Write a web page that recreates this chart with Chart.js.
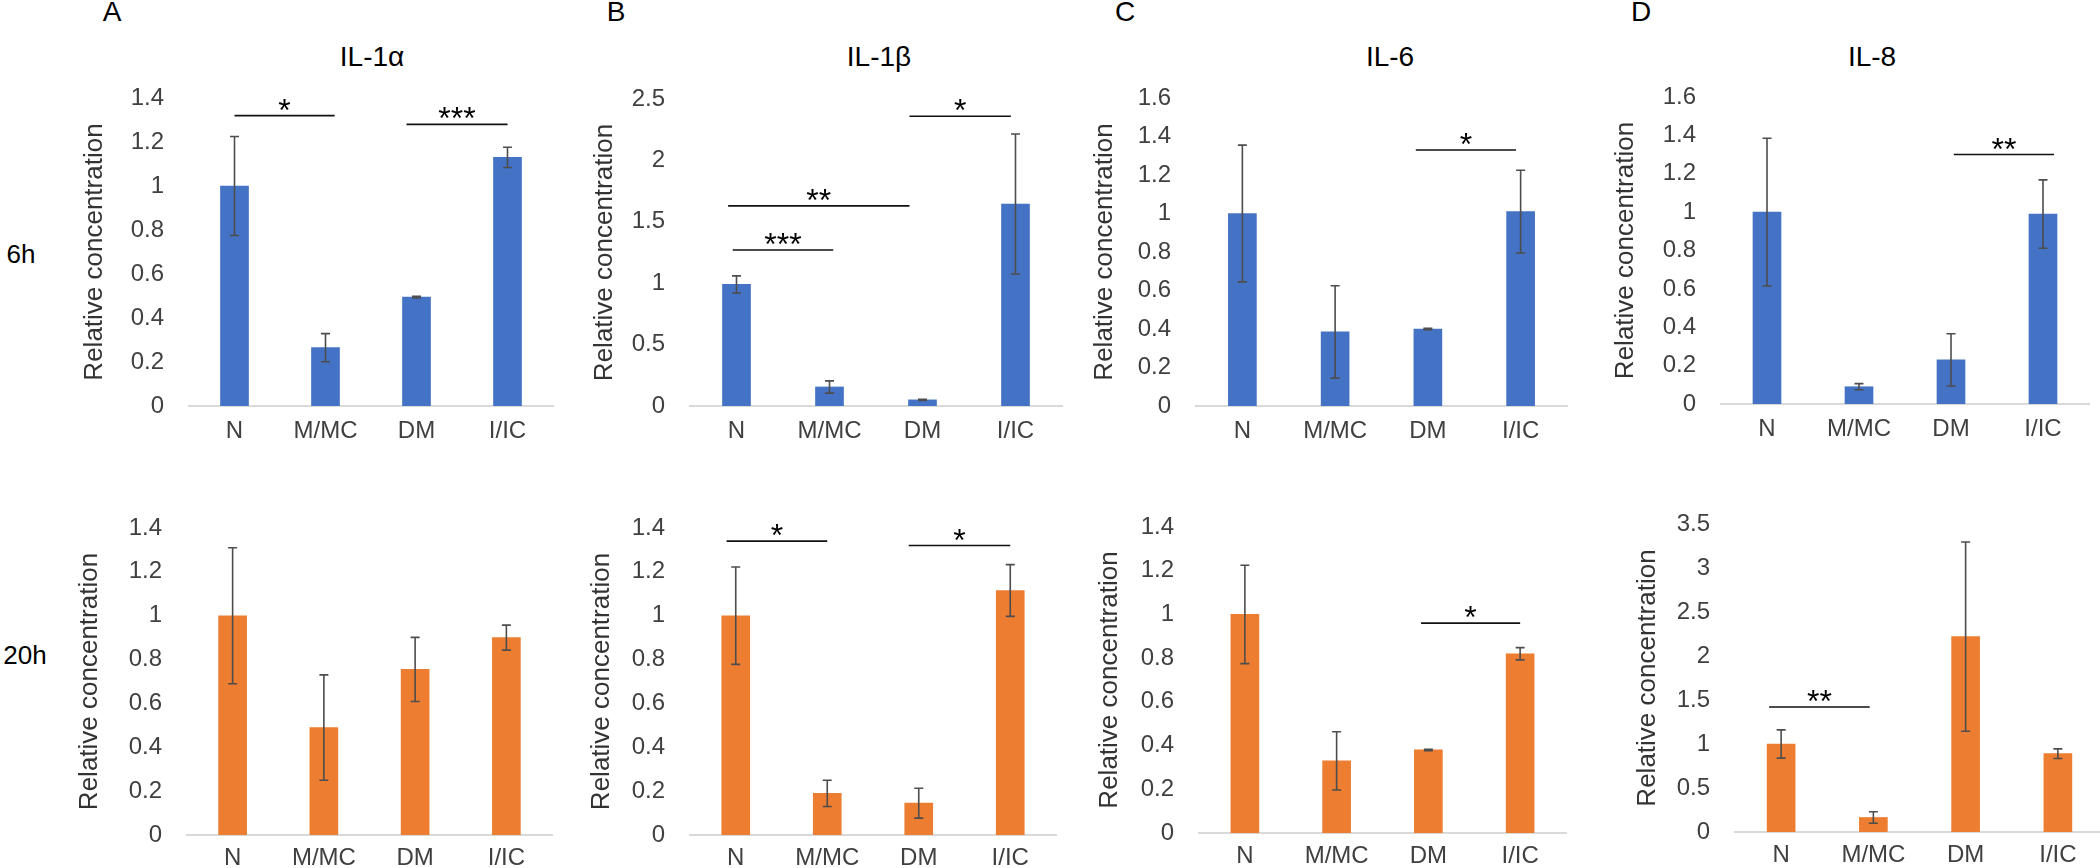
<!DOCTYPE html>
<html>
<head>
<meta charset="utf-8">
<title>IL-1α, IL-1β, IL-6, IL-8 relative concentration</title>
<script src="https://cdn.jsdelivr.net/npm/chart.js@4.4.1/dist/chart.umd.min.js"></script>
<style>
    html, body { margin: 0; padding: 0; background: #fff; overflow: hidden; }
    body { position: relative; width: 2100px; height: 868px; font-family: 'Liberation Sans', Arial, sans-serif; }
    canvas { position: absolute; }
    .lbl { position: absolute; transform: translate(-50%, -50%); line-height: 1; color: #000; white-space: nowrap; }
</style>
</head>
<body>
<div class="lbl" style="left:112px;top:12px;font-size:28px">A</div>
<div class="lbl" style="left:616px;top:12px;font-size:28px">B</div>
<div class="lbl" style="left:1125px;top:12px;font-size:28px">C</div>
<div class="lbl" style="left:1641px;top:12px;font-size:28px">D</div>
<div class="lbl" style="left:372px;top:57px;font-size:28px">IL-1α</div>
<div class="lbl" style="left:879px;top:57px;font-size:28px">IL-1β</div>
<div class="lbl" style="left:1390px;top:57px;font-size:28px">IL-6</div>
<div class="lbl" style="left:1872px;top:57px;font-size:28px">IL-8</div>
<div class="lbl" style="left:21px;top:254px;font-size:26px">6h</div>
<div class="lbl" style="left:25px;top:655px;font-size:26px">20h</div>
<script>
const FONT = "'Liberation Sans', Arial, sans-serif";

const categories = ['N', 'M/MC', 'DM', 'I/IC'];

// Means and error half-widths, 6h row (blue) and 20h row (orange)
const il1a6h = [1.0, 0.265, 0.495, 1.13];
const il1a6hErr = [0.225, 0.064, 0.004, 0.046];
const il1a20h = [1.0, 0.49, 0.755, 0.9];
const il1a20hErr = [0.31, 0.24, 0.146, 0.057];

const il1b6h = [0.99, 0.155, 0.05, 1.645];
const il1b6hErr = [0.07, 0.05, 0.004, 0.57];
const il1b20h = [1.0, 0.19, 0.145, 1.115];
const il1b20hErr = [0.222, 0.06, 0.068, 0.118];

const il6_6h = [1.0, 0.385, 0.4, 1.01];
const il6_6hErr = [0.355, 0.24, 0.003, 0.215];
const il6_20h = [1.0, 0.33, 0.38, 0.82];
const il6_20hErr = [0.225, 0.133, 0.003, 0.028];

const il8_6h = [1.0, 0.09, 0.23, 0.99];
const il8_6hErr = [0.385, 0.016, 0.136, 0.178];
const il8_20h = [1.0, 0.165, 2.22, 0.89];
const il8_20hErr = [0.16, 0.065, 1.075, 0.055];

// Significance bars: [from category, to category, level, stars]
const il1a6hSig = [[0, 1.1, 1.32, '*'], [1.89, 3, 1.28, '***']];
const il1a20hSig = [];
const il1b6hSig = [[1.86, 2.95, 2.36, '*'], [-0.09, 1.86, 1.63, '**'], [-0.04, 1.04, 1.27, '***']];
const il1b20hSig = [[-0.1, 1.0, 1.34, '*'], [1.89, 3.0, 1.32, '*']];
const il6_6hSig = [[1.87, 2.95, 1.33, '*']];
const il6_20hSig = [[1.92, 3.0, 0.96, '*']];
const il8_6hSig = [[2.03, 3.12, 1.30, '**']];
const il8_20hSig = [[-0.13, 0.96, 1.42, '**']];

// Y axis range per panel (A, B, C, D)
const yMax6h = [1.4, 2.5, 1.6, 1.6];
const yStep6h = [0.2, 0.5, 0.2, 0.2];
const yMax20h = [1.4, 1.4, 1.4, 3.5];
const yStep20h = [0.2, 0.2, 0.2, 0.5];

const BLUE = '#4472C4';
const ORANGE = '#ED7D31';

// Error bars with caps
const errorBars = {
    id: 'errorBars',
    afterDatasetsDraw(chart) {
        const { ctx, scales: { y } } = chart;
        const ds = chart.data.datasets[0];
        const meta = chart.getDatasetMeta(0);
        ctx.save();
        ctx.strokeStyle = '#4d4d4d';
        ctx.lineWidth = 1.6;
        meta.data.forEach((bar, i) => {
            const v = ds.data[i];
            const e = ds.errors[i];
            const hi = y.getPixelForValue(v + e);
            const lo = y.getPixelForValue(v - e);
            ctx.beginPath();
            ctx.moveTo(bar.x, hi); ctx.lineTo(bar.x, lo);
            ctx.moveTo(bar.x - 4.5, hi); ctx.lineTo(bar.x + 4.5, hi);
            ctx.moveTo(bar.x - 4.5, lo); ctx.lineTo(bar.x + 4.5, lo);
            ctx.stroke();
        });
        ctx.restore();
    }
};

// Horizontal significance lines with stars
const sigBrackets = {
    id: 'sigBrackets',
    afterDatasetsDraw(chart) {
        const { ctx, scales: { x, y } } = chart;
        const ds = chart.data.datasets[0];
        ctx.save();
        ctx.strokeStyle = '#111';
        ctx.fillStyle = '#000';
        ctx.lineWidth = 1.6;
        ctx.font = '32px ' + FONT;
        ctx.textAlign = 'center';
        ctx.textBaseline = 'alphabetic';
        ds.brackets.forEach(([from, to, level, mark]) => {
            const x0 = x.getPixelForValue(from);
            const x1 = x.getPixelForValue(to);
            const yy = y.getPixelForValue(level);
            ctx.beginPath();
            ctx.moveTo(x0, yy); ctx.lineTo(x1, yy);
            ctx.stroke();
            ctx.fillText(mark, (x0 + x1) / 2, yy + 5);
        });
        ctx.restore();
    }
};

function makeChart(values, errors, brackets, yMax, yStep, color, box) {
    const [cx, cy, cw, ch] = box.canvas;
    const [left, right, top, bottom] = box.area;
    const canvas = document.createElement('canvas');
    canvas.width = cw;
    canvas.height = ch;
    canvas.style.left = cx + 'px';
    canvas.style.top = cy + 'px';
    document.body.appendChild(canvas);

    return new Chart(canvas, {
        type: 'bar',
        data: {
            labels: categories,
            datasets: [{
                data: values,
                errors: errors,
                brackets: brackets,
                backgroundColor: color,
                barThickness: 28
            }]
        },
        options: {
            responsive: false,
            animation: false,
            devicePixelRatio: 1,
            events: [],
            layout: { padding: { left: 0, top: top - cy, right: cx + cw - right, bottom: 0 } },
            plugins: { legend: { display: false }, tooltip: { enabled: false } },
            scales: {
                x: {
                    grid: { display: false, drawTicks: false },
                    border: { display: true, color: '#d9d9d9', width: 2 },
                    ticks: {
                        color: '#404040',
                        font: { family: FONT, size: 24, lineHeight: 1.2 },
                        padding: box.xPad,
                        maxRotation: 0,
                        autoSkip: false
                    },
                    afterFit: s => { s.height = cy + ch - bottom; s.paddingLeft = 0; s.paddingRight = 0; }
                },
                y: {
                    min: 0,
                    max: yMax,
                    grid: { display: false, drawTicks: false },
                    border: { display: false },
                    ticks: {
                        stepSize: yStep,
                        color: '#404040',
                        font: { family: FONT, size: 24, lineHeight: 1.2 },
                        padding: 25,
                        callback: v => String(+v.toFixed(2))
                    },
                    title: {
                        display: true,
                        text: 'Relative concentration',
                        color: '#333',
                        font: { family: FONT, size: 26, lineHeight: 1.2 },
                        padding: { top: box.yTitle - cx - 15.6, bottom: 0 }
                    },
                    afterFit: s => { s.width = left - cx; s.paddingTop = 0; s.paddingBottom = 0; }
                }
            }
        },
        plugins: [errorBars, sigBrackets]
    });
}

// Canvas rectangle [x, y, w, h] and plot area [left, right, top, bottom] per panel
const boxes6h = [
    { canvas: [0, 0, 560, 470], area: [189, 553, 98, 406], yTitle: 95, xPad: 11 },
    { canvas: [560, 0, 515, 470], area: [690, 1062, 99, 406], yTitle: 605, xPad: 11 },
    { canvas: [1075, 0, 505, 470], area: [1196, 1567, 98, 406], yTitle: 1105, xPad: 11 },
    { canvas: [1580, 0, 530, 470], area: [1721, 2089, 97, 404], yTitle: 1626, xPad: 11 }
];
const boxes20h = [
    { canvas: [0, 470, 560, 398], area: [187, 552, 528, 835], yTitle: 90, xPad: 9 },
    { canvas: [560, 470, 515, 398], area: [690, 1056, 528, 835], yTitle: 602, xPad: 9 },
    { canvas: [1075, 470, 505, 398], area: [1199, 1566, 527, 833], yTitle: 1110, xPad: 9 },
    { canvas: [1580, 470, 530, 398], area: [1735, 2104, 524, 832], yTitle: 1648, xPad: 9 }
];

const rows6h = [
    [il1a6h, il1a6hErr, il1a6hSig],
    [il1b6h, il1b6hErr, il1b6hSig],
    [il6_6h, il6_6hErr, il6_6hSig],
    [il8_6h, il8_6hErr, il8_6hSig]
];
const rows20h = [
    [il1a20h, il1a20hErr, il1a20hSig],
    [il1b20h, il1b20hErr, il1b20hSig],
    [il6_20h, il6_20hErr, il6_20hSig],
    [il8_20h, il8_20hErr, il8_20hSig]
];

rows6h.forEach(([vals, errs, sig], i) => {
    makeChart(vals, errs, sig, yMax6h[i], yStep6h[i], BLUE, boxes6h[i]);
});
rows20h.forEach(([vals, errs, sig], i) => {
    makeChart(vals, errs, sig, yMax20h[i], yStep20h[i], ORANGE, boxes20h[i]);
});
</script>
</body>
</html>
